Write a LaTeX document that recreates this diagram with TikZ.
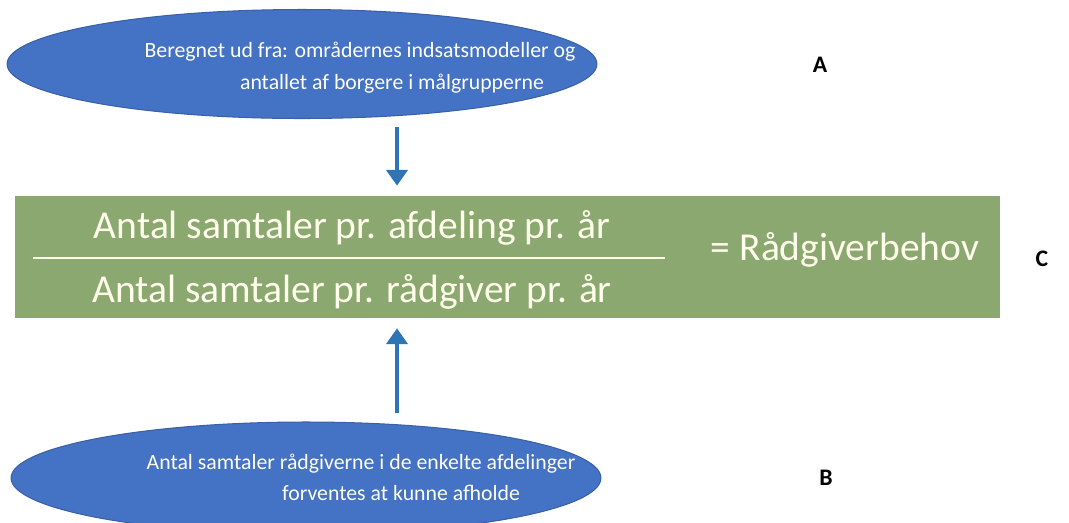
\documentclass[tikz,border=0pt]{standalone}
\usepackage{fontspec}
\setmainfont{Carlito}
\usetikzlibrary{shapes.geometric,arrows.meta}
\definecolor{ovalblue}{RGB}{68,114,196}
\definecolor{arrowblue}{RGB}{46,117,182}
\definecolor{boxgreen}{RGB}{138,168,112}

\begin{document}
\begin{tikzpicture}[x=0.02cm,y=-0.02cm]
\tikzstyle{every node}+=[inner sep=0pt]
\tikzstyle{oval}=[ellipse, fill=ovalblue, draw=ovalblue!85!black, line width=0.6pt, minimum width=11.8cm, minimum height=2.18cm]
\tikzstyle{ovaltext}=[text=white!94!yellow, anchor=base, font=\fontsize{12.4}{15}\selectfont]
\tikzstyle{boxtext}=[text=white!92!yellow, anchor=base, font=\fontsize{22.5}{26}\selectfont]
\tikzstyle{letter}=[font=\fontsize{13.5}{16}\selectfont\bfseries]
\tikzstyle{flow}=[draw=arrowblue, line width=2.2pt, shorten <=0.16cm, shorten >=0.2cm, -{Triangle[length=9pt,width=12pt]}]
\useasboundingbox (0,0) rectangle (1069,522);
% top ellipse
\node [oval] (A) at (302,64) {};
\node [ovaltext] (Atop) at (360,57) {Beregnet ud fra: områdernes indsatsmodeller og};
\node [ovaltext] (Abot) at (392,89) {antallet af borgere i målgrupperne};
\node [letter] (Alabel) at (820,65) {A};
% green box with fraction
\node [rectangle, fill=boxgreen, minimum width=19.7cm, minimum height=2.44cm] (C) at (507.5,257) {};
\node [boxtext] (num) at (352,238) {Antal samtaler pr. afdeling pr. år};
\node [boxtext] (den) at (352,302) {Antal samtaler pr. rådgiver pr. år};
\draw [white!92!yellow, line width=1.6pt] (33,258) -- (665,258);
\node [boxtext] (res) at (845,260) {= Rådgiverbehov};
\node [letter] (Clabel) at (1042,259) {C};
% bottom ellipse
\node [oval, minimum height=2.24cm] (B) at (306,478) {};
\node [ovaltext] (Btop) at (361,469) {Antal samtaler rådgiverne i de enkelte afdelinger};
\node [ovaltext] (Bbot) at (401,500) {forventes at kunne afholde};
\node [letter] (Blabel) at (826,478) {B};
% arrows
\coordinate (ax) at (397,0);
\draw [flow] (A.south -| ax) -- (C.north -| ax);
\draw [flow] (B.north -| ax) -- (C.south -| ax);
\end{tikzpicture}
\end{document}
